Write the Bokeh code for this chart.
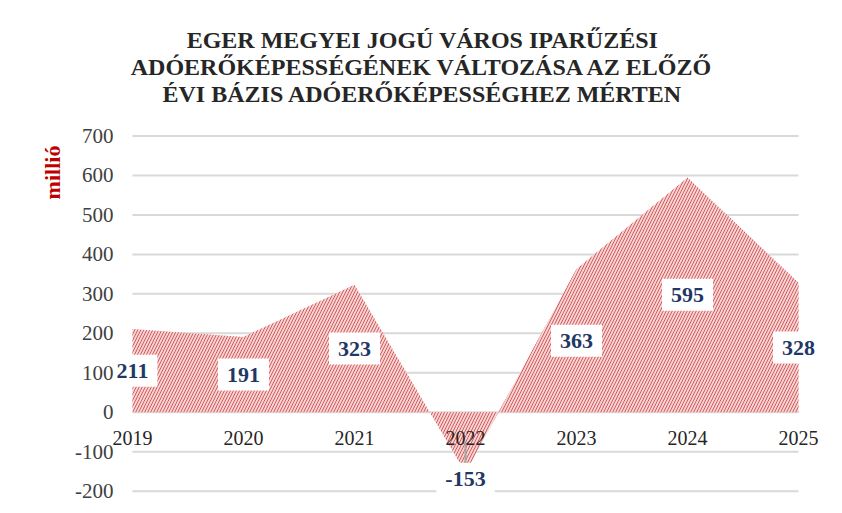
import numpy as np
from bokeh.plotting import figure
from bokeh.models import Range1d, ColumnDataSource, LabelSet, Label
from bokeh.embed import file_html
from bokeh.resources import INLINE

years = [2019, 2020, 2021, 2022, 2023, 2024, 2025]
year_labels = ["2019", "2020", "2021", "2022", "2023", "2024", "2025"]
values = [211, 191, 323, -153, 363, 595, 328]
y_ticks = [-200, -100, 0, 100, 200, 300, 400, 500, 600, 700]
y_tick_labels = ["-200", "-100", "0", "100", "200", "300", "400", "500", "600", "700"]
title_lines = [
    "EGER MEGYEI JOGÚ VÁROS IPARŰZÉSI",
    "ADÓERŐKÉPESSÉGÉNEK VÁLTOZÁSA AZ ELŐZŐ",
    "ÉVI BÁZIS ADÓERŐKÉPESSÉGHEZ MÉRTEN",
]
y_title = "millió"

SERIF = "Liberation Serif"

# the frame covers the whole figure so that labels outside the data area are not clipped
p = figure(width=834, height=505, output_backend="svg", toolbar_location=None,
           x_range=Range1d(2017.811, 2025.324), y_range=Range1d(-236.1, 1043.1),
           min_border=0)
p.outline_line_color = None
p.background_fill_color = "white"
p.border_fill_color = "white"
p.xaxis.visible = False
p.yaxis.visible = False
p.grid.visible = False

# horizontal gridlines across the category span
p.segment(x0=[years[0]] * len(y_ticks), x1=[years[-1]] * len(y_ticks), y0=y_ticks, y1=y_ticks,
          line_color="#d9d9d9", line_width=2)

src = ColumnDataSource(dict(x=years, v=values, zero=[0] * len(years), yl=year_labels))

p.varea(x="x", y1="zero", y2="v", source=src, fill_color="#f6d4d4",
        hatch_pattern="/", hatch_color="#d65a5a", hatch_scale=6, hatch_weight=1)

# leader line for negative label
neg = [i for i, v in enumerate(values) if v < 0]
p.segment(x0=[years[i] for i in neg], y0=[values[i] / 2 for i in neg],
          x1=[years[i] for i in neg], y1=[values[i] for i in neg],
          line_color="#a6a6a6", line_width=2)

# year labels along the zero line
p.add_layout(LabelSet(x="x", y="zero", text="yl", source=src, y_offset=-26,
                      text_align="center", text_baseline="middle",
                      text_font=SERIF, text_font_size="20px", text_color="#262626"))

# data labels
for yr, v in zip(years, values):
    p.add_layout(Label(x=yr, y=(v / 2 if v >= 0 else v), y_offset=(0 if v >= 0 else -6),
                       text=str(v), text_align="center", text_baseline="middle",
                       text_font=SERIF, text_font_style="bold", text_font_size="22px",
                       text_color="#1f3864", background_fill_color="white",
                       padding=9))

# y tick labels (drawn above the data labels)
tick_src = ColumnDataSource(dict(x=[years[0]] * len(y_ticks), y=y_ticks, t=y_tick_labels))
p.add_layout(LabelSet(x="x", y="y", text="t", source=tick_src, x_offset=-19,
                      text_align="right", text_baseline="middle", text_font=SERIF,
                      text_font_size="21px", text_color="#404040"))

# title lines (screen units from the figure's bottom-left)
for line, yy in zip(title_lines, [466, 439, 412]):
    p.add_layout(Label(x=422, y=yy, x_units="screen", y_units="screen", text=line,
                       text_align="center", text_baseline="middle",
                       text_font=SERIF, text_font_style="bold", text_font_size="24px",
                       text_color="#262626"))

p.add_layout(Label(x=52, y=333, x_units="screen", y_units="screen", text=y_title,
                   angle=np.pi / 2, text_align="center", text_baseline="middle",
                   text_font=SERIF, text_font_style="bold", text_font_size="22px",
                   text_color="#c00000"))

open("out.html", "w").write(file_html(p, INLINE))
